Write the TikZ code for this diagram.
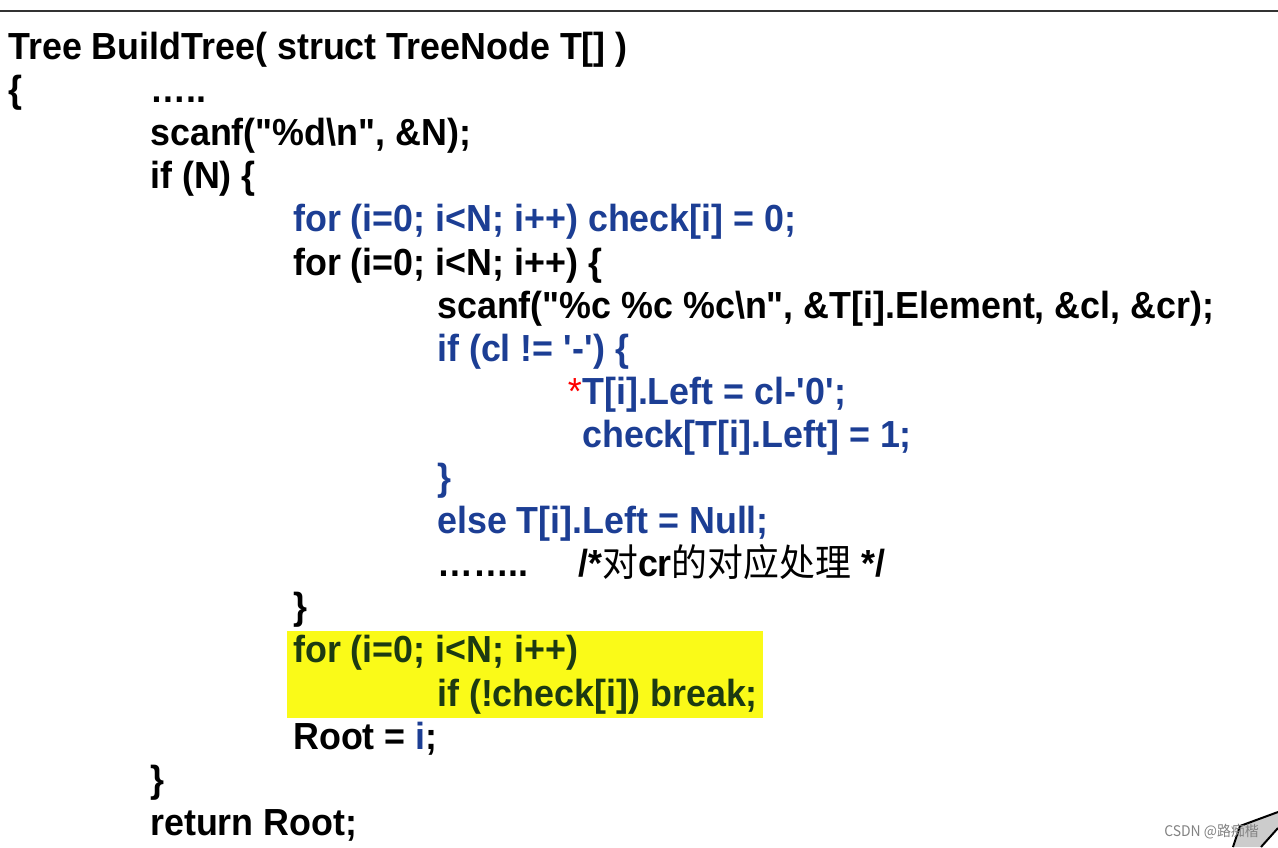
\documentclass[tikz,border=0pt]{standalone}
\usepackage{fontspec}
\usepackage{tikz}
\newfontfamily\codefont{Liberation Sans}[FakeStretch=0.95]
\newfontfamily\cjk{Noto Sans CJK SC}[FakeStretch=0.95]
\definecolor{codeblue}{RGB}{28,62,148}
\definecolor{codegreen}{RGB}{28,58,18}
\definecolor{hlyellow}{RGB}{250,250,24}
\definecolor{markgray}{RGB}{130,130,130}
\tikzset{
  code/.style={anchor=base west, inner sep=0pt, text=black,
    font=\codefont\bfseries\fontsize{28.3pt}{34pt}\selectfont},
  bluecode/.style={code, text=codeblue},
  greencode/.style={code, text=codegreen}
}
\begin{document}
\begin{tikzpicture}[x=0.75pt,y=-0.75pt]
  \useasboundingbox (0,0) rectangle (1278,847);
  \draw [line width=1.5pt, black!80] (0,11) -- (1278,11);
  % highlighted loop
  \fill [hlyellow] (287,631) rectangle (763,718);
  \node[code] (head) at (8,59.5) {Tree BuildTree( struct TreeNode T[] )};
  \node[code] (lbrace) at (8,102.6) {\{};
  \node[code] (dotsA) at (150,102.6) {…..};
  \node[code] (readN) at (150,145.7) {scanf("\%d\textbackslash n", \&N);};
  \node[code] (ifN) at (150,188.8) {if (N) \{};
  \node[bluecode] (initChk) at (293,231.9) {for (i=0; i<N; i++) check[i] = 0;};
  \node[code] (forLoop) at (293,275) {for (i=0; i<N; i++) \{};
  \node[code] (readNode) at (437,318.1) {scanf("\%c \%c \%c\textbackslash n", \&T[i].Element, \&cl, \&cr);};
  \node[bluecode] (ifLeft) at (437,361.2) {if (cl != \textquotesingle-\textquotesingle) \{};
  \node[bluecode] (setLeft) at (582,404.3) {T[i].Left = cl-\textquotesingle0\textquotesingle;};
  \node[code, anchor=base east, text=red, font=\codefont\fontsize{28.3pt}{34pt}\selectfont] (star) at (setLeft.base west) {*};
  \node[bluecode] (markLeft) at (582,447.4) {check[T[i].Left] = 1;};
  \node[bluecode] (closeIf) at (437,490.5) {\}};
  \node[bluecode] (elseLeft) at (437,533.6) {else T[i].Left = Null;};
  \node[code] (dotsB) at (437,576.7) {……..};
  \node[code] (crNote) at (578,576.7) {/*{\cjk\mdseries 对}cr{\cjk\mdseries 的对应处理} */};
  \node[code] (closeFor) at (293,619.8) {\}};
  \node[greencode] (findFor) at (293,662.9) {for (i=0; i<N; i++)};
  \node[greencode] (findIf) at (437,706) {if (!check[i]) break;};
  \node[code] (setRoot) at (293,749.1) {Root = {\color{codeblue}i};};
  \node[code] (closeIfN) at (150,792.2) {\}};
  \node[code] (ret) at (150,835.3) {return Root;};
  % corner and watermark
  \fill [black!20] (1233,847) -- (1240,826) -- (1278,812) -- (1278,828) -- (1261,847) -- cycle;
  \draw [line width=1.5pt] (1233,847) -- (1240,826) -- (1278,812);
  \draw [line width=1.5pt] (1261,847) -- (1278,828);
  \node[anchor=base west, inner sep=0pt, text=markgray, font=\cjk\fontsize{11pt}{13pt}\selectfont] (mark) at (1164,836) {CSDN @路痴楷};
\end{tikzpicture}
\end{document}
